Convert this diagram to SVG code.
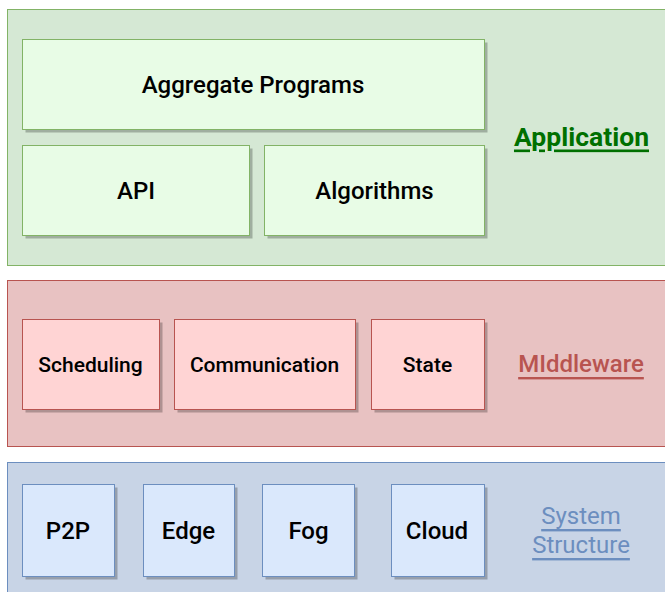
<svg xmlns="http://www.w3.org/2000/svg" width="665" height="592" viewBox="0 0 665 592">
<style>
text{font-family:Roboto,"Liberation Sans",sans-serif;text-anchor:middle;dominant-baseline:central;font-weight:500}
.t{font-size:24px;fill:#000}
.s{font-size:21px;fill:#000}
.lab{font-size:24px;text-decoration:underline}
.app{font-size:26.5px;font-weight:700}
.sys{font-weight:400}
.sh{fill:#000;opacity:0.25}
.gL{fill:#d5e8d4;stroke:#82b366}
.gB{fill:#e8fce6;stroke:#82b366}
.rL{fill:#e8c2c2;stroke:#b85450}
.rB{fill:#ffd4d4;stroke:#b85450}
.bL{fill:#c8d4e6;stroke:#6c8ebf}
.bB{fill:#dae8fc;stroke:#6c8ebf}
</style>
<rect width="665" height="592" fill="#fff"/>
<g id="application-layer">
<rect class="gL" x="7.5" y="9.5" width="670" height="256"/>
<text class="lab app" x="581.5" y="136" fill="#007000">Application</text>
</g>
<g id="aggregate-programs">
<rect class="sh" x="25.5" y="42.5" width="462" height="90"/>
<rect class="gB" x="22.5" y="39.5" width="462" height="90"/>
<text class="t" x="253" y="85">Aggregate Programs</text>
</g>
<g id="api">
<rect class="sh" x="25.5" y="148.5" width="227" height="90"/>
<rect class="gB" x="22.5" y="145.5" width="227" height="90"/>
<text class="t" x="136" y="191">API</text>
</g>
<g id="algorithms">
<rect class="sh" x="267.5" y="148.5" width="220" height="90"/>
<rect class="gB" x="264.5" y="145.5" width="220" height="90"/>
<text class="t" x="374.5" y="191">Algorithms</text>
</g>
<g id="middleware-layer">
<rect class="rL" x="7.5" y="280.5" width="670" height="166"/>
<text class="lab" x="581" y="364" fill="#b85450">MIddleware</text>
</g>
<g id="scheduling">
<rect class="sh" x="25.5" y="322.5" width="137" height="90"/>
<rect class="rB" x="22.5" y="319.5" width="137" height="90"/>
<text class="s" x="90.5" y="365">Scheduling</text>
</g>
<g id="communication">
<rect class="sh" x="177.5" y="322.5" width="181" height="90"/>
<rect class="rB" x="174.5" y="319.5" width="181" height="90"/>
<text class="s" x="264.5" y="365">Communication</text>
</g>
<g id="state">
<rect class="sh" x="374.5" y="322.5" width="113" height="90"/>
<rect class="rB" x="371.5" y="319.5" width="113" height="90"/>
<text class="s" x="427.5" y="365">State</text>
</g>
<g id="system-structure-layer">
<rect class="bL" x="7.5" y="462.5" width="670" height="140"/>
<text class="lab sys" x="581" y="516" fill="#6c8ebf">System</text>
<text class="lab sys" x="581" y="545" fill="#6c8ebf">Structure</text>
</g>
<g id="p2p">
<rect class="sh" x="25.5" y="487.5" width="92" height="92"/>
<rect class="bB" x="22.5" y="484.5" width="92" height="92"/>
<text class="t" x="68" y="530.5">P2P</text>
</g>
<g id="edge">
<rect class="sh" x="146.5" y="487.5" width="91" height="92"/>
<rect class="bB" x="143.5" y="484.5" width="91" height="92"/>
<text class="t" x="188.5" y="530.5">Edge</text>
</g>
<g id="fog">
<rect class="sh" x="265.5" y="487.5" width="92" height="92"/>
<rect class="bB" x="262.5" y="484.5" width="92" height="92"/>
<text class="t" x="308.5" y="530.5">Fog</text>
</g>
<g id="cloud">
<rect class="sh" x="394.5" y="487.5" width="93" height="92"/>
<rect class="bB" x="391.5" y="484.5" width="93" height="92"/>
<text class="t" x="437" y="530.5">Cloud</text>
</g>
<g id="connectors"/>
</svg>
